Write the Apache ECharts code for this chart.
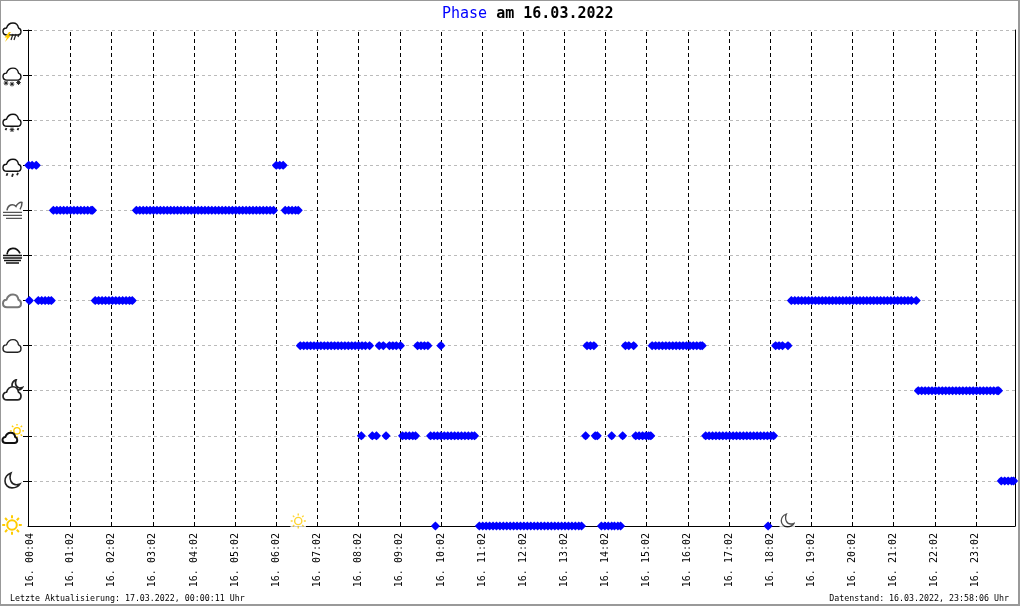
<!DOCTYPE html>
<html>
<head>
<meta charset="utf-8">
<title>Phase am 16.03.2022</title>
<style>
   html, body { margin: 0; padding: 0; background: #fff; }
   #main { width: 1020px; height: 606px; }
</style>
<script src="https://cdn.jsdelivr.net/npm/echarts@6/dist/echarts.min.js"></script>
</head>
<body>
<div id="main"></div>
<script>
// minutes since midnight of every reading, one list per phase
var phaseSunny = [594, 658, 663, 668, 673, 678, 683, 688, 693, 698, 703, 708, 713, 718, 723, 728, 733, 738, 743, 748, 753, 758, 763, 768, 773, 778, 783, 788, 793, 798, 803, 807, 836, 841, 846, 851, 855, 860, 864, 1079];
var phaseClearNight = [1419, 1424, 1429, 1434, 1437];
var phaseSunCloud = [486, 502, 508, 522, 546, 551, 556, 561, 565, 587, 592, 597, 602, 607, 612, 617, 622, 627, 632, 637, 642, 647, 651, 813, 827, 830, 851, 867, 886, 891, 896, 901, 905, 908, 988, 993, 998, 1003, 1008, 1013, 1018, 1023, 1028, 1033, 1038, 1043, 1048, 1053, 1058, 1063, 1068, 1073, 1078, 1083, 1087];
var phaseMoonCloud = [1298, 1303, 1308, 1313, 1318, 1323, 1328, 1333, 1338, 1343, 1348, 1353, 1358, 1363, 1368, 1373, 1378, 1383, 1388, 1393, 1398, 1403, 1408, 1413, 1415];
var phaseCloudy = [397, 402, 407, 412, 417, 422, 427, 432, 437, 442, 447, 452, 457, 462, 467, 472, 477, 482, 487, 492, 498, 512, 518, 527, 532, 537, 543, 568, 573, 578, 583, 602, 815, 820, 825, 871, 876, 883, 910, 915, 920, 925, 930, 935, 940, 945, 950, 955, 960, 965, 970, 975, 980, 983, 1090, 1095, 1100, 1108];
var phaseOvercast = [2, 15, 20, 25, 30, 34, 98, 103, 108, 113, 118, 123, 128, 133, 138, 143, 148, 152, 1113, 1118, 1123, 1128, 1133, 1138, 1143, 1148, 1153, 1158, 1163, 1168, 1173, 1178, 1183, 1188, 1193, 1198, 1203, 1208, 1213, 1218, 1223, 1228, 1233, 1238, 1243, 1248, 1253, 1258, 1263, 1268, 1273, 1278, 1283, 1288, 1295];
var phaseFog = [];
var phaseMist = [37, 42, 47, 52, 57, 62, 67, 72, 77, 82, 87, 92, 94, 158, 163, 168, 173, 178, 183, 188, 193, 198, 203, 208, 213, 218, 223, 228, 233, 238, 243, 248, 253, 258, 263, 268, 273, 278, 283, 288, 293, 298, 303, 308, 313, 318, 323, 328, 333, 338, 343, 348, 353, 358, 375, 380, 385, 390, 394];
var phaseRain = [1, 6, 12, 362, 367, 372];
var phaseSleet = [];
var phaseSnow = [];
var phaseThunder = [];

// index in this list = level on the y axis
var phaseLists = [phaseSunny, phaseClearNight, phaseSunCloud, phaseMoonCloud, phaseCloudy, phaseOvercast, phaseFog, phaseMist, phaseRain, phaseSleet, phaseSnow, phaseThunder];

var tickMinutes = [4, 62, 122, 182, 242, 302, 362, 422, 482, 542, 602, 662, 722, 782, 842, 902, 962, 1022, 1082, 1142, 1202, 1262, 1322, 1382];
var tickLabels = ['16. 00:04', '16. 01:02', '16. 02:02', '16. 03:02', '16. 04:02', '16. 05:02', '16. 06:02', '16. 07:02', '16. 08:02', '16. 09:02', '16. 10:02', '16. 11:02', '16. 12:02', '16. 13:02', '16. 14:02', '16. 15:02', '16. 16:02', '16. 17:02', '16. 18:02', '16. 19:02', '16. 20:02', '16. 21:02', '16. 22:02', '16. 23:02'];
var hourLines = [62, 122, 182, 242, 302, 362, 422, 482, 542, 602, 662, 722, 782, 842, 902, 962, 1022, 1082, 1142, 1202, 1262, 1322, 1382];
var levelTicks = [1, 2, 3, 4, 5, 6, 7, 8, 9, 10, 11];

var sunriseMinute = 394;
var sunsetMinute = 1107;

var MONO = '"DejaVu Sans Mono", "Liberation Mono", monospace';

function svgUri(size, body) {
   var s = '<svg xmlns="http://www.w3.org/2000/svg" width="' + size + '" height="' + size + '" viewBox="0 0 ' + size + ' ' + size + '">' + body + '</svg>';
   return 'data:image/svg+xml;charset=utf-8,' + encodeURIComponent(s);
}

function cloud(x, y, sx, sy, color, width) {
   return '<path transform="translate(' + x + ',' + y + ') scale(' + sx + ',' + sy + ')" fill="#fff" stroke="' + color + '" stroke-width="' + width + '" stroke-linejoin="round" vector-effect="non-scaling-stroke" d="M4 12C1.5 12 0 10.5 0 8.5 0 6.5 1.5 5 3.5 5 4.5 2 7 0 10 0 13 0 15 2 15.5 5 17 5.5 18 7 18 8.5 18 10.5 16.5 12 14.5 12Z"/>';
}

function line(x1, y1, x2, y2, color, width) {
   return '<line x1="' + x1 + '" y1="' + y1 + '" x2="' + x2 + '" y2="' + y2 + '" stroke="' + color + '" stroke-width="' + width + '"/>';
}

function star(x, y, r) {
   return line(x - r, y, x + r, y, '#222', 1) + line(x, y - r, x, y + r, '#222', 1) +
      line(x - r * 0.7, y - r * 0.7, x + r * 0.7, y + r * 0.7, '#222', 1) + line(x - r * 0.7, y + r * 0.7, x + r * 0.7, y - r * 0.7, '#222', 1);
}

function sun(cx, cy, r, ray, width) {
   var body = '<circle cx="' + cx + '" cy="' + cy + '" r="' + r + '" fill="#fff" stroke="#fc0" stroke-width="' + width + '"/>';
   [0, 45, 90, 135, 180, 225, 270, 315].forEach(function (a) {
      var c = Math.cos(a * Math.PI / 180), s = Math.sin(a * Math.PI / 180);
      body += line(cx + c * (r + 2), cy + s * (r + 2), cx + c * (r + 2 + ray), cy + s * (r + 2 + ray), '#fc0', width);
   });
   return body;
}

function moon(x, y, k, width) {
   return '<path transform="translate(' + x + ',' + y + ') scale(' + k + ')" fill="#fff" stroke="#222" stroke-width="' + width + '" vector-effect="non-scaling-stroke" d="M6 0C2 1.5 0 4.5 0 8 0 12 3 15 7 15 10.5 15 13.5 13.5 15 11 11 12.5 7.5 11.5 6 8.5 4.7 5.8 4.8 2.8 6 0Z"/>';
}

// icons next to the y axis, box is 24x24 with the level in the middle
var phaseIcons = [
   svgUri(24, sun(12, 11, 4.8, 3, 2)),
   svgUri(24, moon(5, 4, 1, 1.6)),
   svgUri(24, sun(17, 7, 3.2, 2, 1.3) + cloud(2.5, 9, 0.82, 0.85, '#111', 2)),
   svgUri(24, moon(12, 1, 0.7, 1.7) + cloud(3, 8, 1, 1.1, '#222', 1.7)),
   svgUri(24, cloud(3, 6, 1, 1.05, '#222', 1.4)),
   svgUri(24, cloud(3, 6, 1, 1.05, '#777', 2)),
   svgUri(24, '<path d="M7 11C8 3 17 3 20 10" fill="#fff" stroke="#111" stroke-width="1.7"/>' + line(3, 12, 22, 12, '#111', 1.5) + line(3, 14.5, 22, 14.5, '#111', 1.5) + line(4, 17, 21, 17, '#111', 1.5) + line(6, 19.5, 19, 19.5, '#111', 1.5)),
   svgUri(24, '<path d="M7 12C8 6 13 5 16 8C17 6 20 3 22 4C22 7 21.5 9 20 11" fill="none" stroke="#555" stroke-width="1.5"/>' + line(3, 14, 22, 14, '#555', 1.3) + line(3, 17, 22, 17, '#555', 1.3) + line(6, 20, 22, 20, '#555', 1.3)),
   svgUri(24, cloud(3, 6, 1, 1, '#111', 1.4) + line(7.5, 20, 6.5, 22.5, '#222', 1.8) + line(13, 20.5, 12, 23.5, '#222', 1.8) + line(18, 19.5, 17, 22, '#222', 1.8)),
   svgUri(24, cloud(3, 6, 1, 1, '#111', 1.4) + line(6.5, 20, 5.5, 22, '#222', 1.8) + star(12, 21.5, 2.3) + line(18.5, 20, 17.5, 22, '#222', 1.8)),
   svgUri(24, cloud(3, 5, 1, 1, '#111', 1.4) + star(6, 20, 2.3) + star(12, 21, 2.3) + star(18.5, 19.5, 2.3)),
   svgUri(24, cloud(3, 5, 1, 1, '#111', 1.4) + line(13, 16, 11, 22, '#222', 1.2) + line(16, 16, 14, 22, '#222', 1.2) + line(19, 16, 18, 19, '#222', 1.2) + '<path d="M9 14L4.5 19.5 7 19.5 5 24 11 17.5 8.5 17.5 11 14Z" fill="#fc0"/>')
];

var iconRich = {};
phaseIcons.forEach(function (uri, i) {
   iconRich['i' + i] = { width: 24, height: 24, backgroundColor: { image: uri } };
});

var sunriseIcon = svgUri(16, '<rect width="16" height="16" fill="#fff"/>' + sun(8, 8, 3.6, 2, 1.4));
var sunsetIcon = svgUri(16, '<rect width="16" height="16" fill="#fff"/>' + moon(2, 1, 0.85, 1.3));

var phaseData = [];
phaseLists.forEach(function (list, level) {
   list.forEach(function (minute) {
      phaseData.push([minute, level]);
   });
});

var chart = echarts.init(document.getElementById('main'), null, { renderer: 'canvas' });

chart.setOption({
   animation: false,
   backgroundColor: '#fff',
   title: [
      {
         left: 442,
         top: 7,
         padding: 0,
         text: '{a|Phase}{b| am 16.03.2022}',
         textStyle: {
            rich: {
               a: { fontFamily: MONO, fontSize: 15, fontWeight: 'normal', color: '#0000ff' },
               b: { fontFamily: MONO, fontSize: 15, fontWeight: 'bold', color: '#000' }
            }
         }
      },
      {
         left: 10,
         top: 595,
         padding: 0,
         text: 'Letzte Aktualisierung: 17.03.2022, 00:00:11 Uhr',
         textStyle: { fontFamily: MONO, fontSize: 8.3, fontWeight: 'normal', color: '#000' }
      },
      {
         right: 11,
         top: 595,
         padding: 0,
         text: 'Datenstand: 16.03.2022, 23:58:06 Uhr',
         textStyle: { fontFamily: MONO, fontSize: 8.3, fontWeight: 'normal', color: '#000' }
      }
   ],
   grid: { left: 28, right: 5, top: 30, bottom: 80, containLabel: false, outerBoundsMode: 'none' },
   xAxis: {
      type: 'value',
      min: 0,
      max: 1439,
      axisLine: { onZero: false, lineStyle: { color: '#000', width: 1 } },
      axisTick: { show: false },
      splitLine: { show: false },
      axisLabel: {
         customValues: tickMinutes,
         rotate: 90,
         margin: 7,
         color: '#000',
         fontFamily: MONO,
         fontSize: 10,
         hideOverlap: false,
         formatter: function (value) {
            return tickLabels[tickMinutes.indexOf(value)];
         }
      }
   },
   yAxis: [
      {
         type: 'value',
         min: 0,
         max: 11,
         interval: 1,
         axisLine: { show: true, onZero: false, lineStyle: { color: '#000', width: 1 } },
         axisTick: { show: true, length: 5, customValues: levelTicks, lineStyle: { color: '#000' } },
         splitLine: { show: true, lineStyle: { color: '#bbb', type: [3, 3], width: 1 } },
         axisLabel: {
            margin: 4,
            hideOverlap: false,
            showMinLabel: true,
            showMaxLabel: true,
            formatter: function (value) {
               return '{i' + value + '| }';
            },
            rich: iconRich
         }
      },
      {
         // short inner part of the ticks
         type: 'value',
         position: 'left',
         min: 0,
         max: 11,
         interval: 1,
         axisLine: { show: false },
         axisTick: { show: true, inside: true, length: 4, customValues: levelTicks, lineStyle: { color: '#000' } },
         splitLine: { show: false },
         axisLabel: { show: false }
      },
      {
         // right border of the plot
         type: 'value',
         position: 'right',
         min: 0,
         max: 11,
         axisLine: { show: true, onZero: false, lineStyle: { color: '#000', width: 1 } },
         axisTick: { show: false },
         splitLine: { show: false },
         axisLabel: { show: false }
      }
   ],
   series: [
      {
         name: 'hours',
         type: 'scatter',
         z: 1,
         data: [],
         silent: true,
         markLine: {
            silent: true,
            z: 1,
            animation: false,
            symbol: 'none',
            label: { show: false },
            lineStyle: { color: '#000', type: [4, 3], width: 1 },
            data: hourLines.map(function (m) { return { xAxis: m }; })
         }
      },
      {
         name: 'Phase',
         type: 'scatter',
         z: 3,
         clip: false,
         // a bit fuller than the built in diamond, so runs of readings close up into a bar
         symbol: 'path://M4 0L6.1 1.9 8 4 6.1 6.1 4 8 1.9 6.1 0 4 1.9 1.9Z',
         symbolSize: 9,
         itemStyle: { color: '#0000ff', opacity: 1 },
         data: phaseData
      },
      {
         name: 'sun times',
         type: 'scatter',
         z: 2,
         clip: false,
         symbolSize: 16,
         symbolOffset: [0, -5],
         data: [
            { value: [sunriseMinute, 0], symbol: 'image://' + sunriseIcon },
            { value: [sunsetMinute, 0], symbol: 'image://' + sunsetIcon }
         ]
      }
   ],
   graphic: [
      {
         type: 'rect',
         silent: true,
         z: 100,
         shape: { x: 0, y: 0, width: 1019, height: 605 },
         style: { fill: 'none', stroke: '#999', lineWidth: 2 }
      }
   ]
});
</script>
</body>
</html>
